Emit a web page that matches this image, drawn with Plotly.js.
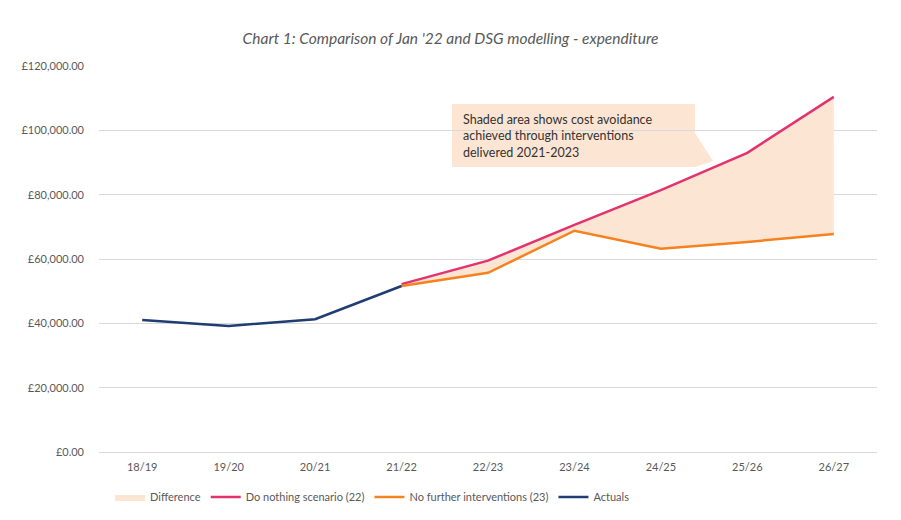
<!DOCTYPE html>
<html>
<head>
<meta charset="utf-8">
<script src="https://cdn.plot.ly/plotly-3.0.1.min.js"></script>
<style>html,body{margin:0;padding:0;background:#fff;}#chart{width:901px;height:520px;}</style>
</head>
<body>
<div id="chart"></div>
<script>
var categories = ['18/19','19/20','20/21','21/22','22/23','23/24','24/25','25/26','26/27'];
var projCategories = ['21/22','22/23','23/24','24/25','25/26','26/27'];
var doNothing = [52200, 59500, 70600, 81400, 93000, 110400];
var noFurther = [51600, 55700, 68800, 63200, 65300, 67800];
var actualCategories = ['18/19','19/20','20/21','21/22'];
var actuals = [41000, 39200, 41300, 51600];
var yTickVals = [0, 20000, 40000, 60000, 80000, 100000, 120000];
var yTickText = ['£0.00','£20,000.00','£40,000.00','£60,000.00','£80,000.00','£100,000.00','£120,000.00'];

var font = 'Lato, "Open Sans", sans-serif';
var traces = [
  {x: projCategories, y: noFurther, type: 'scatter', mode: 'lines', line: {width: 0}, showlegend: false, hoverinfo: 'skip'},
  {x: projCategories, y: doNothing, type: 'scatter', mode: 'lines', name: 'Difference', fill: 'tonexty', fillcolor: '#fde5d3', line: {width: 0, color: '#fde5d3'}},
  {x: projCategories, y: doNothing, type: 'scatter', mode: 'lines', name: 'Do nothing scenario (22)', line: {color: '#e2336f', width: 2.5}},
  {x: projCategories, y: noFurther, type: 'scatter', mode: 'lines', name: 'No further interventions (23)', line: {color: '#f5821f', width: 2.5}},
  {x: actualCategories, y: actuals, type: 'scatter', mode: 'lines', name: 'Actuals', line: {color: '#1f3c73', width: 2.5}}
];

function px(x){ return (x - 99) / 778; }
function py(y){ return (452 - y) / 386; }

var layout = {
  width: 901, height: 520,
  margin: {l: 99, r: 24, t: 66, b: 68},
  paper_bgcolor: '#ffffff', plot_bgcolor: '#ffffff',
  font: {family: font, color: '#595959', size: 11},
  title: {text: "<i>Chart 1: Comparison of Jan '22 and DSG modelling - expenditure</i>", x: 0.5, xanchor: 'center', y: 0.925, yanchor: 'middle', font: {family: font, size: 15.5, color: '#595959'}},
  xaxis: {type: 'category', categoryorder: 'array', categoryarray: categories, range: [-0.5, 8.5], automargin: false, showgrid: false, showline: false, zeroline: false, ticks: '', ticklabelstandoff: 7, tickfont: {size: 11, color: '#595959'}, fixedrange: true},
  yaxis: {range: [0, 120000], tickvals: yTickVals, ticktext: yTickText, automargin: false, showgrid: true, gridcolor: '#d9d9d9', gridwidth: 1, zeroline: true, zerolinecolor: '#d9d9d9', zerolinewidth: 1, showline: false, ticks: '', ticklen: 0, ticklabelstandoff: 14, tickfont: {size: 11, color: '#595959'}, fixedrange: true},
  showlegend: true,
  legend: {orientation: 'h', xref: 'container', yref: 'container', x: 110 / 901, xanchor: 'left', y: (520 - 497) / 520, yanchor: 'middle', font: {size: 11, color: '#595959'}, itemwidth: 30, traceorder: 'normal'},
  shapes: [
    {type: 'path', xref: 'paper', yref: 'paper', layer: 'below',
     path: 'M ' + px(452) + ' ' + py(104) + ' L ' + px(695) + ' ' + py(104) + ' L ' + px(695) + ' ' + py(133) + ' L ' + px(713) + ' ' + py(161) + ' L ' + px(695) + ' ' + py(167) + ' L ' + px(452) + ' ' + py(167) + ' Z',
     fillcolor: '#fde5d3', line: {width: 0}}
  ],
  annotations: [
    {xref: 'paper', yref: 'paper', x: px(461), y: py(136), xanchor: 'left', yanchor: 'middle', align: 'left', showarrow: false,
     text: 'Shaded area shows cost avoidance<br>achieved through interventions<br>delivered 2021-2023', font: {family: font, size: 12.5, color: '#333333'}}
  ]
};
Plotly.newPlot('chart', traces, layout, {displayModeBar: false, staticPlot: true});
</script>
</body>
</html>
